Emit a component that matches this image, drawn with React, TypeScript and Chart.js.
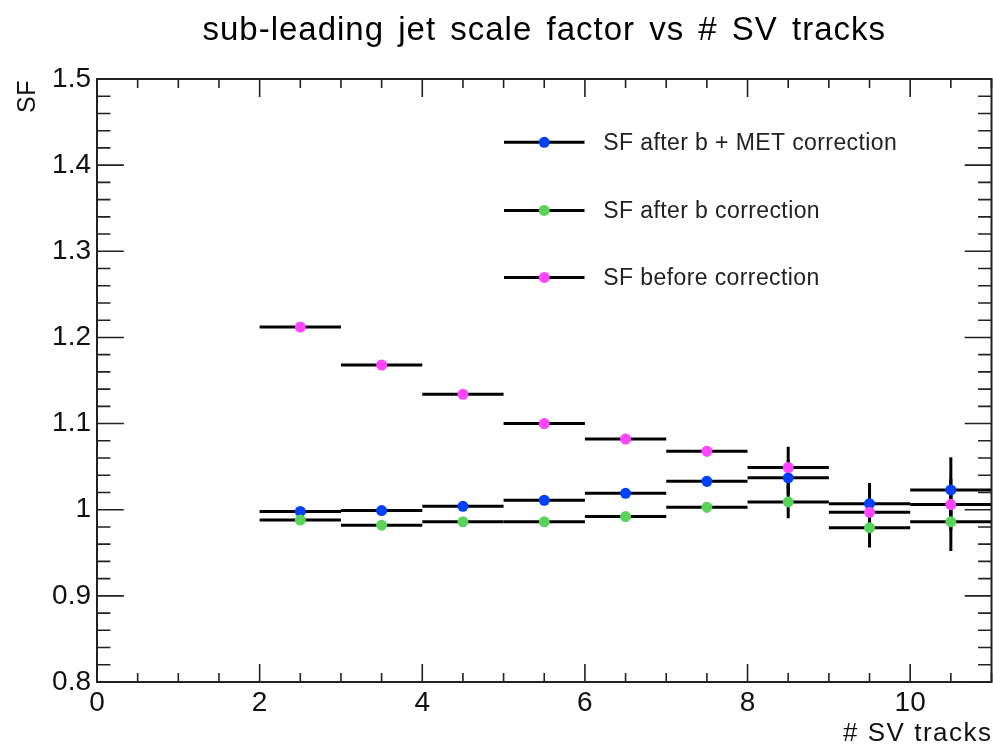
import { useEffect, useRef } from "react";
import { Chart, registerables } from "chart.js";

Chart.register(...registerables);

// ---- data ----
const binCenters = [2.5, 3.5, 4.5, 5.5, 6.5, 7.5, 8.5, 9.5, 10.5];
const binHalfWidth = 0.5;

const sfAfterBMet = [0.998, 0.999, 1.004, 1.011, 1.019, 1.033, 1.037, 1.007, 1.023];
const sfAfterBMetErr = [0.004, 0.004, 0.004, 0.004, 0.005, 0.006, 0.02, 0.024, 0.038];

const sfAfterB = [0.988, 0.982, 0.986, 0.986, 0.992, 1.003, 1.009, 0.979, 0.986];
const sfAfterBErr = [0.004, 0.004, 0.004, 0.004, 0.005, 0.006, 0.019, 0.023, 0.034];

const sfBefore = [1.212, 1.168, 1.134, 1.1, 1.082, 1.068, 1.049, 0.997, 1.006];
const sfBeforeErr = [0.004, 0.004, 0.004, 0.004, 0.005, 0.006, 0.024, 0.025, 0.03];

const seriesLabels = ["SF after b + MET correction", "SF after b correction", "SF before correction"];
const seriesColors = ["#0040ff", "#5ad35a", "#ff45ff"];

const xTickLabels = [0, 2, 4, 6, 8, 10];
const yTickLabels = [0.8, 0.9, 1.0, 1.1, 1.2, 1.3, 1.4, 1.5];
const xRange = [0, 11];
const yRange = [0.8, 1.5];
const xMinorStep = 0.5;
const yMinorStep = 0.02;

const titleText = "sub-leading jet scale factor vs # SV tracks";
const xTitle = "# SV tracks";
const yTitle = "SF";

const FONT = "'Liberation Sans', Arial, Helvetica, sans-serif";

const series = [
  { values: sfAfterBMet, errs: sfAfterBMetErr },
  { values: sfAfterB, errs: sfAfterBErr },
  { values: sfBefore, errs: sfBeforeErr },
];

const errorBarPlugin = {
  id: "errorBars",
  beforeDatasetsDraw(chart: any) {
    const { ctx, chartArea, scales } = chart;
    const xs = scales.x;
    const ys = scales.y;
    ctx.save();
    ctx.beginPath();
    ctx.rect(chartArea.left, chartArea.top, chartArea.right - chartArea.left, chartArea.bottom - chartArea.top);
    ctx.clip();
    ctx.strokeStyle = "#000";
    ctx.lineWidth = 3;
    ctx.lineCap = "butt";
    series.forEach((s) => {
      s.values.forEach((v, i) => {
        const c = binCenters[i];
        const py = ys.getPixelForValue(v);
        const x1 = xs.getPixelForValue(c - binHalfWidth);
        const x2 = xs.getPixelForValue(c + binHalfWidth);
        const px = xs.getPixelForValue(c);
        ctx.beginPath();
        ctx.moveTo(x1, py);
        ctx.lineTo(x2, py);
        ctx.stroke();
        const yTop = ys.getPixelForValue(v + s.errs[i]);
        const yBot = ys.getPixelForValue(v - s.errs[i]);
        ctx.beginPath();
        ctx.moveTo(px, yTop);
        ctx.lineTo(px, yBot);
        ctx.stroke();
      });
    });
    ctx.restore();
  },
};

const frameTicksPlugin = {
  id: "frameTicks",
  afterDraw(chart: any) {
    const { ctx, chartArea, scales } = chart;
    const xs = scales.x;
    const ys = scales.y;
    const { left, right, top, bottom } = chartArea;
    const w = right - left;
    const h = bottom - top;
    const xMajor = 0.03 * h;
    const xMinor = xMajor / 2;
    const yMajor = 0.03 * w;
    const yMinor = yMajor / 2;
    ctx.save();
    ctx.strokeStyle = "#222";
    ctx.lineWidth = 2;
    ctx.strokeRect(left, top, w, h);
    ctx.lineWidth = 1.6;
    ctx.beginPath();
    for (let v = xRange[0]; v <= xRange[1] + 1e-9; v += xMinorStep) {
      const isMajor = xTickLabels.some((t) => Math.abs(t - v) < 1e-6);
      const len = isMajor ? xMajor : xMinor;
      const px = xs.getPixelForValue(v);
      ctx.moveTo(px, bottom);
      ctx.lineTo(px, bottom - len);
      ctx.moveTo(px, top);
      ctx.lineTo(px, top + len);
    }
    const nY = Math.round((yRange[1] - yRange[0]) / yMinorStep);
    for (let k = 0; k <= nY; k++) {
      const v = yRange[0] + k * yMinorStep;
      const isMajor = yTickLabels.some((t) => Math.abs(t - v) < 1e-6);
      const len = isMajor ? yMajor : yMinor;
      const py = ys.getPixelForValue(v);
      ctx.moveTo(left, py);
      ctx.lineTo(left + len, py);
      ctx.moveTo(right, py);
      ctx.lineTo(right - len, py);
    }
    ctx.stroke();

    // title
    ctx.fillStyle = "#000";
    ctx.font = `33px ${FONT}`;
    (ctx as any).letterSpacing = "1px";
    (ctx as any).wordSpacing = "4px";
    ctx.textAlign = "center";
    ctx.textBaseline = "middle";
    ctx.fillText(titleText, (left + right) / 2, 31);
    (ctx as any).wordSpacing = "0px";

    // axis titles
    ctx.font = `26px ${FONT}`;
    (ctx as any).letterSpacing = "1.5px";
    ctx.textAlign = "right";
    ctx.textBaseline = "middle";
    ctx.fillStyle = "#111";
    ctx.fillText(xTitle, right + 1, 734);
    ctx.save();
    ctx.translate(28, top + 1);
    ctx.rotate(-Math.PI / 2);
    ctx.font = `25px ${FONT}`;
    (ctx as any).letterSpacing = "0.5px";
    ctx.textAlign = "right";
    ctx.fillText(yTitle, 0, 0);
    ctx.restore();

    // legend
    const lx1 = left + 0.455 * w;
    const lx2 = left + 0.545 * w;
    const lxm = (lx1 + lx2) / 2;
    const ltx = left + 0.566 * w;
    const rows = [top + 0.105 * h, top + 0.218 * h, top + 0.329 * h];
    ctx.font = `23px ${FONT}`;
    (ctx as any).letterSpacing = "0.4px";
    ctx.textAlign = "left";
    rows.forEach((ry, i) => {
      ctx.strokeStyle = "#000";
      ctx.lineWidth = 3;
      ctx.beginPath();
      ctx.moveTo(lx1, ry);
      ctx.lineTo(lx2, ry);
      ctx.stroke();
      ctx.fillStyle = seriesColors[i];
      ctx.beginPath();
      ctx.arc(lxm, ry, 5.5, 0, Math.PI * 2);
      ctx.fill();
      ctx.fillStyle = "#222";
      ctx.fillText(seriesLabels[i], ltx, ry + 1);
    });
    (ctx as any).letterSpacing = "0px";
    ctx.restore();
  },
};

export default function App() {
  const canvasRef = useRef<HTMLCanvasElement | null>(null);

  useEffect(() => {
    const canvas = canvasRef.current;
    if (!canvas) return;
    const datasets = series.map((s, i) => ({
      label: seriesLabels[i],
      data: s.values.map((v, j) => ({ x: binCenters[j], y: v })),
      backgroundColor: seriesColors[i],
      borderColor: seriesColors[i],
      pointRadius: 5.5,
      pointBorderWidth: 0,
      pointHoverRadius: 5.5,
      showLine: false,
      order: 3 - i,
    }));
    const chart = new Chart(canvas, {
      type: "scatter",
      data: { datasets },
      options: {
        animation: false,
        responsive: false,
        devicePixelRatio: 1,
        events: [],
        layout: { autoPadding: false, padding: { top: 79, right: 1.5, left: 0, bottom: 0 } },
        plugins: {
          legend: { display: false },
          title: { display: false },
          tooltip: { enabled: false },
        },
        scales: {
          x: {
            type: "linear",
            min: xRange[0],
            max: xRange[1],
            grid: { display: false, drawTicks: false },
            border: { display: false },
            afterFit: (scale: any) => {
              scale.height = 64;
              scale.paddingLeft = 0;
              scale.paddingRight = 0;
            },
            afterBuildTicks: (scale: any) => {
              scale.ticks = xTickLabels.map((v) => ({ value: v }));
            },
            ticks: {
              autoSkip: false,
              maxRotation: 0,
              padding: 4,
              color: "#111",
              font: { family: FONT, size: 28 },
              callback: (v: any) => String(v),
            },
          },
          y: {
            type: "linear",
            min: yRange[0],
            max: yRange[1],
            grid: { display: false, drawTicks: false },
            border: { display: false },
            afterFit: (scale: any) => {
              scale.width = 97;
              scale.paddingTop = 0;
              scale.paddingBottom = 0;
            },
            afterBuildTicks: (scale: any) => {
              scale.ticks = yTickLabels.map((v) => ({ value: v }));
            },
            ticks: {
              autoSkip: false,
              padding: 6,
              color: "#111",
              font: { family: FONT, size: 28 },
              callback: (v: any) => String(parseFloat(Number(v).toFixed(2))),
            },
          },
        },
      },
      plugins: [errorBarPlugin, frameTicksPlugin],
    } as any);
    return () => chart.destroy();
  }, []);

  return (
    <div style={{ position: "absolute", left: 0, top: 0, width: 993, height: 746, background: "#fff" }}>
      <canvas ref={canvasRef} width={993} height={746} style={{ display: "block", width: 993, height: 746 }} />
    </div>
  );
}
